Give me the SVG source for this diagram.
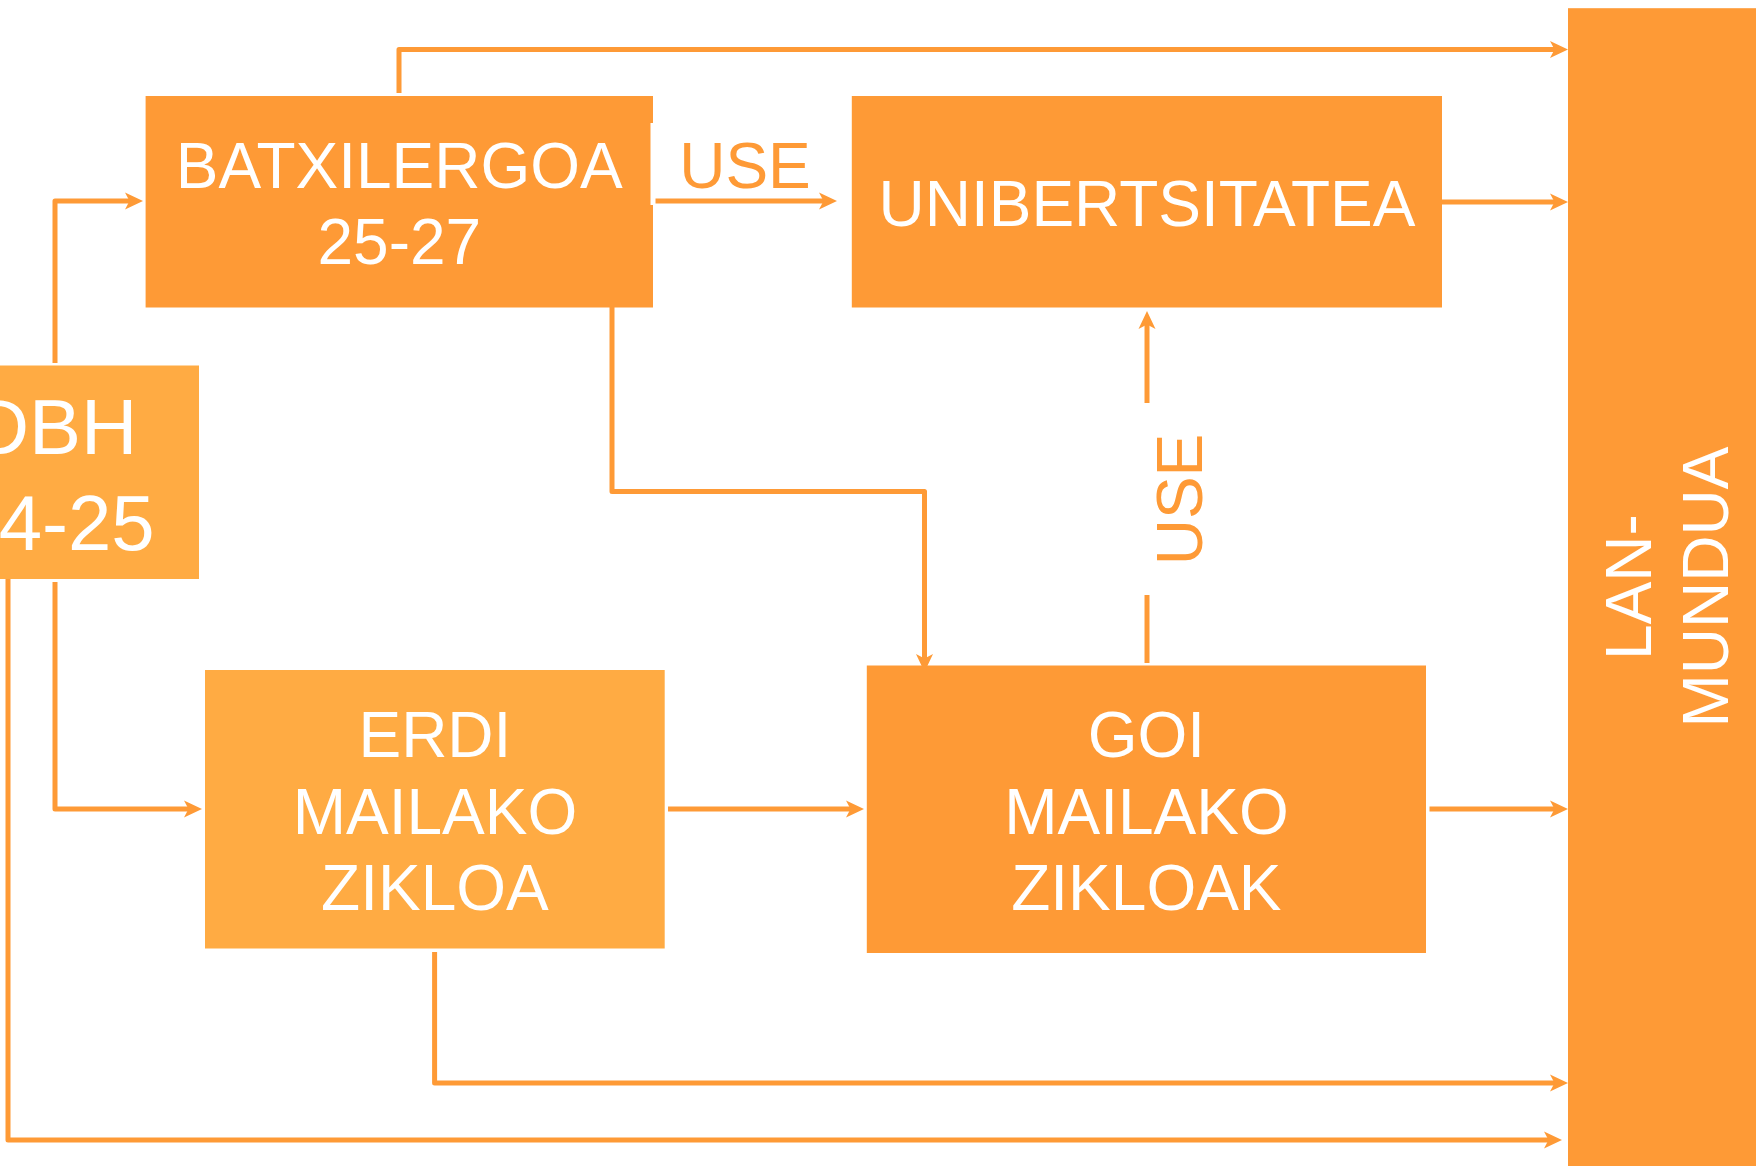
<svg xmlns="http://www.w3.org/2000/svg" width="1756" height="1166" viewBox="0 0 1756 1166">
<defs>
<style>
.dark{fill:#FE9A36}
.light{fill:#FFAB43}
.t{font-family:"Liberation Sans",Arial,sans-serif;font-size:64px;fill:#FFFFFF;text-anchor:middle}
.big{font-size:78px}
.lbl{font-family:"Liberation Sans",Arial,sans-serif;font-size:64px;fill:#FE9A36;text-anchor:middle}
.c{fill:none;stroke:#FE9A36;stroke-width:5;stroke-linejoin:round}
</style>
<marker id="ah" markerUnits="userSpaceOnUse" markerWidth="22" markerHeight="20" viewBox="0 -10 22 20" refX="10" refY="0" orient="auto">
<path d="M0,-8.5 L18,0 L0,8.5 L4.5,0 Z" fill="#FE9A36"/>
</marker>
</defs>
<rect x="0" y="0" width="1756" height="1166" fill="#FFFFFF"/>
<g id="connectors">
<path class="c" d="M55,363 V201 H135" marker-end="url(#ah)"/>
<path class="c" d="M55,582 V809 H194" marker-end="url(#ah)"/>
<path class="c" d="M8,575 V1140 H1554" marker-end="url(#ah)"/>
<path class="c" d="M399,93 V49.5 H1560" marker-end="url(#ah)"/>
<path class="c" d="M655,201 H829" marker-end="url(#ah)"/>
<path class="c" d="M1442,202 H1560" marker-end="url(#ah)"/>
<path class="c" d="M612,307 V491.5 H924.5 V664" marker-end="url(#ah)"/>
<path class="c" d="M668,809 H856" marker-end="url(#ah)"/>
<path class="c" d="M434.6,952 V1083 H1560" marker-end="url(#ah)"/>
<path class="c" d="M1429.5,809 H1560" marker-end="url(#ah)"/>
<path class="c" d="M1147,663 V595"/>
<path class="c" d="M1147,403 V319" marker-end="url(#ah)"/>
</g>
<g id="node-dbh">
<rect class="light" x="-89" y="365.5" width="288" height="213.5"/>
<text class="t big" x="55" y="453.6">DBH</text>
<text class="t big" x="55" y="549.5">24-25</text>
</g>
<g id="node-batxilergoa">
<rect class="dark" x="145.6" y="96" width="507.4" height="211.5"/>
<rect x="650.5" y="123" width="5" height="82" fill="#FFFFFF"/>
<text class="t" x="399.3" y="187.8">BATXILERGOA</text>
<text class="t" x="399.3" y="264">25-27</text>
</g>
<g id="label-use-1">
<text class="lbl" x="745" y="187.8">USE</text>
</g>
<g id="node-unibertsitatea">
<rect class="dark" x="851.8" y="96" width="590.2" height="211.5"/>
<text class="t" x="1147" y="225.7">UNIBERTSITATEA</text>
</g>
<g id="label-use-2">
<text class="lbl" transform="translate(1201.6,499.5) rotate(-90)" x="0" y="0">USE</text>
</g>
<g id="node-erdi">
<rect class="light" x="205" y="670" width="459.7" height="278.5"/>
<text class="t" x="434.9" y="756.6">ERDI</text>
<text class="t" x="434.9" y="833.6">MAILAKO</text>
<text class="t" x="434.9" y="910.2">ZIKLOA</text>
</g>
<g id="node-goi">
<rect class="dark" x="866.8" y="665.5" width="559.2" height="287.5"/>
<text class="t" x="1146.4" y="756.6">GOI</text>
<text class="t" x="1146.4" y="833.6">MAILAKO</text>
<text class="t" x="1146.4" y="910.2">ZIKLOAK</text>
</g>
<g id="node-lan-mundua">
<rect class="dark" x="1568" y="8.2" width="200" height="1170"/>
<g transform="translate(1651,587) rotate(-90)">
<text class="t" x="0" y="0">LAN-</text>
<text class="t" x="0" y="77">MUNDUA</text>
</g>
</g>
</svg>
